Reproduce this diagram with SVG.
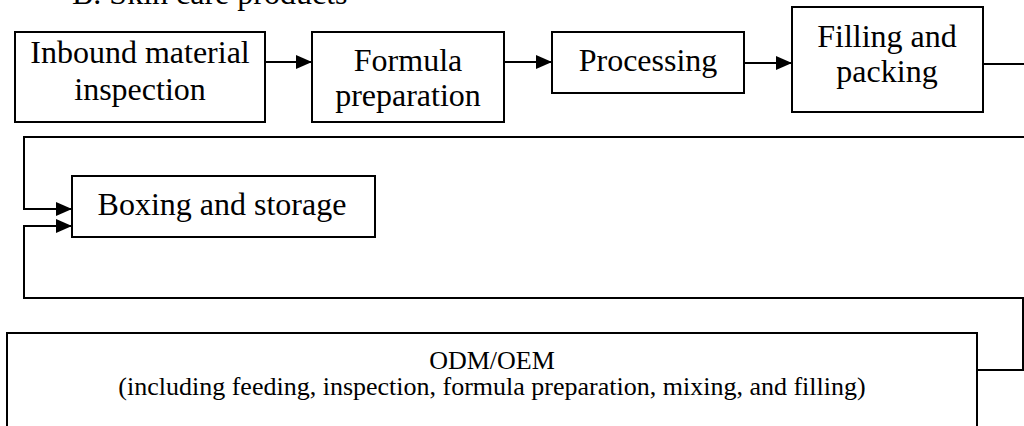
<svg xmlns="http://www.w3.org/2000/svg" width="1024" height="426" viewBox="0 0 1024 426">
  <style>
    .box { fill: #ffffff; stroke: #000000; stroke-width: 2; }
    .lbl { font-size: 32px; fill: #000000; text-anchor: middle; }
    .small { font-size: 26px; }
    .conn { fill: none; stroke: #000000; stroke-width: 2; }
  </style>
  <defs>
    <marker id="arrow" markerWidth="16" markerHeight="14" refX="16" refY="7" orient="auto" markerUnits="userSpaceOnUse">
      <path d="M0,0 L16,7 L0,14 Z" fill="#000000"/>
    </marker>
  </defs>

  <rect width="1024" height="426" fill="#ffffff"/>

  <g font-family="'Liberation Serif', 'Times New Roman', 'DejaVu Serif', serif">
    <!-- section heading -->
    <text class="lbl" x="72" y="4" text-anchor="start" style="text-anchor:start">B. Skin care products</text>

    <g id="connectors">
      <line class="conn" x1="265" y1="62" x2="312" y2="62" marker-end="url(#arrow)"/>
      <line class="conn" x1="504" y1="62" x2="552" y2="62" marker-end="url(#arrow)"/>
      <line class="conn" x1="744" y1="63" x2="792" y2="63" marker-end="url(#arrow)"/>
      <!-- filling and packing loops back to boxing -->
      <path class="conn" d="M983,64 H1032 V137 H24 V209 H72" marker-end="url(#arrow)"/>
      <!-- ODM/OEM output feeds boxing -->
      <path class="conn" d="M977,370 H1023 V298 H24 V226 H72" marker-end="url(#arrow)"/>
    </g>

    <g id="inbound">
      <rect class="box" x="15" y="32" width="250" height="90"/>
      <text class="lbl" x="140" y="63">Inbound material</text>
      <text class="lbl" x="140" y="100">inspection</text>
    </g>

    <g id="formula">
      <rect class="box" x="312" y="32" width="192" height="90"/>
      <text class="lbl" x="408" y="71">Formula</text>
      <text class="lbl" x="408" y="106">preparation</text>
    </g>

    <g id="processing">
      <rect class="box" x="552" y="32" width="192" height="61"/>
      <text class="lbl" x="648" y="71">Processing</text>
    </g>

    <g id="filling">
      <rect class="box" x="792" y="7" width="191" height="105"/>
      <text class="lbl" x="887" y="47">Filling and</text>
      <text class="lbl" x="887" y="82">packing</text>
    </g>

    <g id="boxing">
      <rect class="box" x="72" y="176" width="303" height="61"/>
      <text class="lbl" x="222" y="215">Boxing and storage</text>
    </g>

    <g id="odm">
      <rect class="box" x="7" y="333" width="970" height="110"/>
      <text class="lbl small" x="492" y="369">ODM/OEM</text>
      <text class="lbl small" x="492" y="395">(including feeding, inspection, formula preparation, mixing, and filling)</text>
    </g>
  </g>
</svg>
